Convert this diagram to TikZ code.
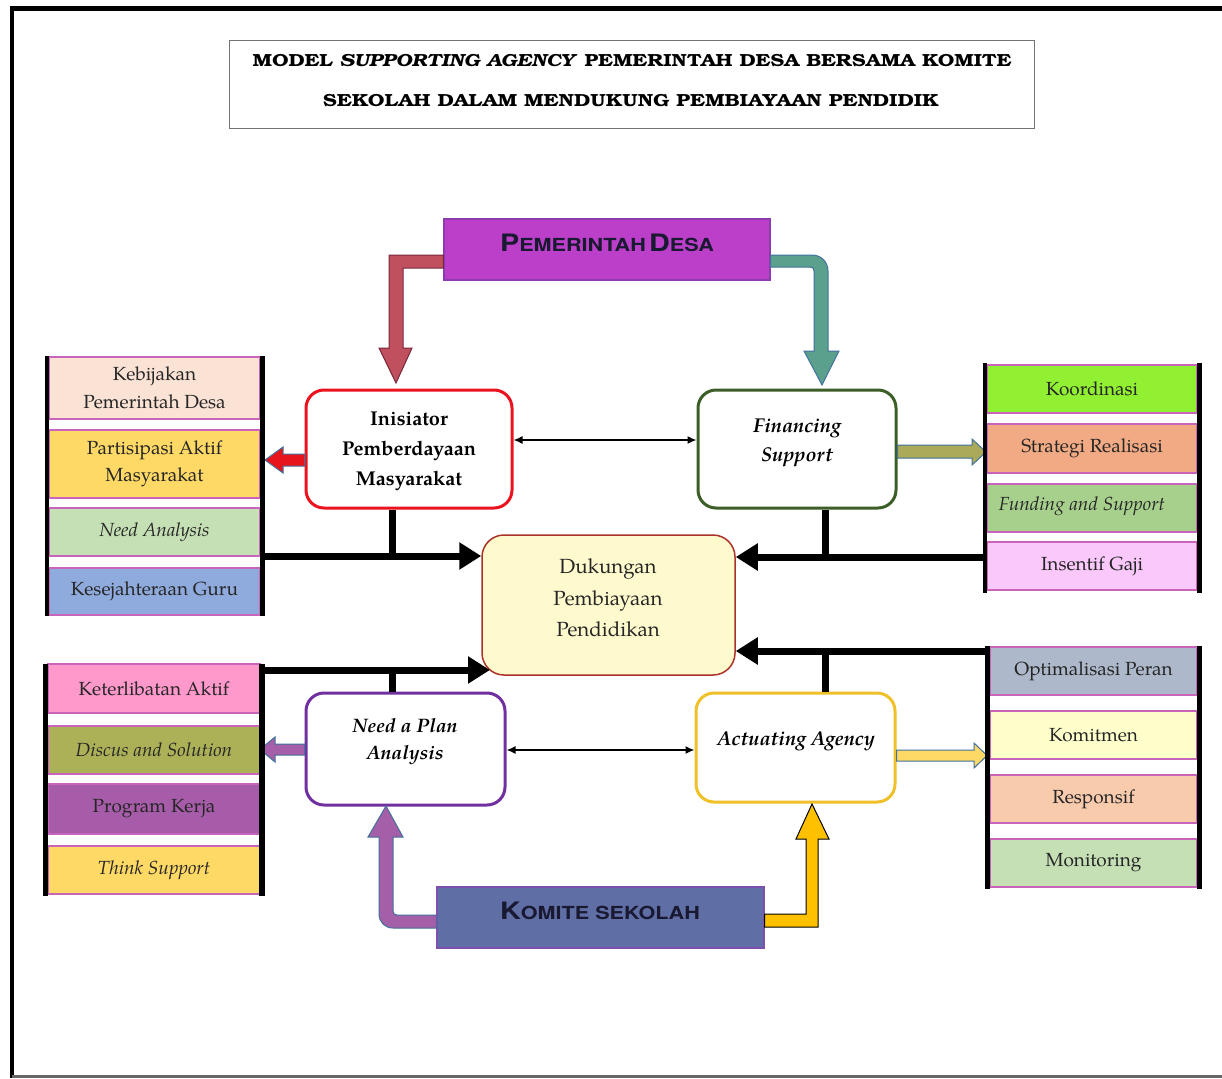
\documentclass[tikz,border=0pt]{standalone}
\usepackage{fontspec}
\usepackage{graphicx}
\setmainfont{TeX Gyre Pagella}
\newfontfamily\titlefont{TeX Gyre Bonum}
\newfontfamily\capfont{TeX Gyre Heros}
\usetikzlibrary{arrows.meta}
\definecolor{pdpurple}{RGB}{187,63,200}
\definecolor{pdborder}{RGB}{140,60,175}
\definecolor{komblue}{RGB}{95,110,165}
\definecolor{komborder}{RGB}{125,80,175}
\definecolor{redarrow}{RGB}{192,80,94}
\definecolor{redarrowb}{RGB}{120,40,60}
\definecolor{tealarrow}{RGB}{90,160,140}
\definecolor{officeb}{RGB}{65,113,156}
\definecolor{purplearrow}{RGB}{165,95,168}
\definecolor{goldarrow}{RGB}{255,192,0}
\definecolor{inired}{RGB}{235,20,30}
\definecolor{fingreen}{RGB}{60,95,40}
\definecolor{needpurple}{RGB}{112,48,160}
\definecolor{actgold}{RGB}{240,192,40}
\definecolor{dukfill}{RGB}{255,250,205}
\definecolor{dukborder}{RGB}{170,50,40}
\definecolor{smallred}{RGB}{232,20,28}
\definecolor{olivearrow}{RGB}{170,170,90}
\definecolor{goldlight}{RGB}{255,217,102}
\definecolor{sideborder}{RGB}{200,100,185}
\definecolor{cPeach}{RGB}{250,226,212}
\definecolor{cYellow}{RGB}{255,217,102}
\definecolor{cSage}{RGB}{197,224,180}
\definecolor{cBlue}{RGB}{143,170,220}
\definecolor{cPink}{RGB}{255,153,204}
\definecolor{cOlive}{RGB}{172,177,88}
\definecolor{cPurple}{RGB}{166,92,168}
\definecolor{cLime}{RGB}{146,240,50}
\definecolor{cSalmon}{RGB}{242,170,132}
\definecolor{cGreen}{RGB}{168,208,141}
\definecolor{cLPink}{RGB}{250,200,250}
\definecolor{cGray}{RGB}{173,185,202}
\definecolor{cPale}{RGB}{255,255,204}
\definecolor{cApricot}{RGB}{248,203,173}
\definecolor{inktext}{RGB}{25,25,50}
\newcommand{\bigsc}[2]{{\fontsize{24}{24}\selectfont #1}{\fontsize{18}{18}\selectfont #2}}
\tikzset{
  sidebox/.style={draw=sideborder, line width=1.2pt, minimum width=211pt, inner sep=0pt,
    align=center, font=\fontsize{19}{27.5}\selectfont, text=black!85},
  mainbox/.style={draw, line width=3pt, rounded corners=18pt, fill=white, inner sep=0pt},
  sidebar/.style={line width=5pt, black},
  fatline/.style={line width=7pt, black},
  fattip/.style={-{Triangle[width=26pt,length=22pt]}},
  thinlink/.style={{Latex[length=9pt,width=8pt]}-{Latex[length=9pt,width=8pt]}, line width=1.5pt},
  blockarrow/.style={line width=1pt, line join=miter},
  boldtxt/.style={align=center, font=\bfseries\fontsize{20}{30}\selectfont, text=black},
  bitxt/.style={align=center, font=\bfseries\itshape\fontsize{20}{28}\selectfont, text=black},
  titletxt/.style={font=\titlefont\bfseries\fontsize{17.5}{20}\selectfont, inner sep=0pt}
}
\begin{document}
\begin{tikzpicture}[x=1pt,y=-1pt]
\useasboundingbox (0,0) rectangle (1222,1078);
\fill[white] (0,0) rectangle (1222,1078);
% outer frame
\draw[line width=5pt] (10,8.5) -- (1222,8.5);
\draw[line width=4pt] (12,6.5) -- (12,1078);
\draw[line width=2.5pt, black!60] (12,1076.5) -- (1222,1076.5);

% title
\node[draw=black!55, line width=0.8pt, minimum width=805pt, minimum height=88pt, inner sep=0pt] (title) at (631.5,84) {};
\node[titletxt] (t1) at (632,61) {\scalebox{1.18}[1]{MODEL \textit{SUPPORTING AGENCY} PEMERINTAH DESA BERSAMA KOMITE}};
\node[titletxt] (t2) at (631,101) {\scalebox{1.19}[1]{SEKOLAH DALAM MENDUKUNG PEMBIAYAAN PENDIDIK}};

% Pemerintah Desa
\node[draw=pdborder, fill=pdpurple, line width=1.2pt, minimum width=326pt, minimum height=61pt, inner sep=0pt] (pd) at (607,249.5) {};
\node[text=inktext, font=\capfont\bfseries, inner sep=0pt] (pdt) at (607,243) {\scalebox{1.2}[1]{\bigsc{P}{EMERINTAH} \bigsc{D}{ESA}}};

% Komite sekolah
\node[draw=komborder, fill=komblue, line width=1.2pt, minimum width=327pt, minimum height=61pt, inner sep=0pt] (ks) at (600.5,917.5) {};
\node[text=inktext, font=\capfont\bfseries, inner sep=0pt] (kst) at (600,911) {\scalebox{1.2}[1]{\bigsc{K}{OMITE SEKOLAH}}};

% main boxes
\node[mainbox, draw=inired, minimum width=206pt, minimum height=118pt] (ini) at (409,449) {};
\node[boldtxt] (init) at (409,451) {Inisiator\\Pemberdayaan\\Masyarakat};
\node[mainbox, draw=fingreen, minimum width=198pt, minimum height=118pt] (fin) at (797,449) {};
\node[bitxt, font=\bfseries\itshape\fontsize{20}{29}\selectfont] (fint) at (797,443) {Financing\\Support};
\node[mainbox, draw=dukborder, fill=dukfill, line width=1.5pt, rounded corners=22pt, minimum width=253pt, minimum height=140pt] (duk) at (608.5,605) {};
\node[align=center, font=\fontsize{20.5}{31.5}\selectfont, text=black!85] (dukt) at (608,598) {Dukungan\\Pembiayaan\\Pendidikan};
\node[mainbox, draw=needpurple, minimum width=199pt, minimum height=112pt] (need) at (405.5,749) {};
\node[bitxt, font=\bfseries\itshape\fontsize{19.5}{27}\selectfont] (needt) at (405,742) {Need a Plan\\Analysis};
\node[mainbox, draw=actgold, minimum width=199pt, minimum height=109pt] (act) at (795.5,747.5) {};
\node[bitxt] (actt) at (796,741) {Actuating Agency};

% thin double links
\draw[thinlink] (ini.east |- 0,440) -- (fin.west |- 0,440);
\draw[thinlink] (need.east |- 0,750) -- (act.west |- 0,750);

% block arrows from Pemerintah Desa
\filldraw[blockarrow, fill=redarrow, draw=redarrowb]
  (pd.west |- 0,255) -- (389,255) -- (389,348) -- (379,348) -- (396,383) -- (412,348) -- (403,348) -- (403,268) -- (pd.west |- 0,268) -- cycle;
\filldraw[blockarrow, fill=tealarrow, draw=officeb]
  (pd.east |- 0,255) -- (812,255) .. controls (821,255) and (828,262) .. (828,271) -- (828,351) -- (839,351) -- (822,385) -- (804,351) -- (814,351) -- (814,271) .. controls (814,268.5) and (813,267) .. (810,267) -- (pd.east |- 0,267) -- cycle;

% block arrows from Komite sekolah
\filldraw[blockarrow, fill=purplearrow, draw=officeb]
  (ks.west |- 0,915) -- (397,915) .. controls (394.5,915) and (393,913.5) .. (393,911) -- (393,837) -- (403,837) -- (386,806) -- (368,837) -- (379,837) -- (379,914) .. controls (379,922) and (385,928) .. (393,928) -- (ks.west |- 0,928) -- cycle;
\filldraw[blockarrow, fill=goldarrow, draw=black]
  (ks.east |- 0,914) -- (806,914) -- (806,839) -- (796,839) -- (812,804) -- (829,839) -- (818,839) -- (818,927) -- (ks.east |- 0,927) -- cycle;

% small side arrows
\filldraw[blockarrow, fill=smallred, draw=officeb]
  (ini.west |- 0,454) -- (283,454) -- (283,447) -- (265,460) -- (283,473) -- (283,466) -- (ini.west |- 0,466) -- cycle;
\filldraw[blockarrow, fill=purplearrow, draw=officeb]
  (need.west |- 0,744) -- (275,744) -- (275,737) -- (260,749.5) -- (275,762) -- (275,755) -- (need.west |- 0,755) -- cycle;
\filldraw[blockarrow, fill=olivearrow, draw=officeb]
  (fin.east |- 0,445) -- (972,445) -- (972,439) -- (986,452) -- (972,465) -- (972,458) -- (fin.east |- 0,458) -- cycle;
\filldraw[blockarrow, fill=goldlight, draw=officeb]
  (act.east |- 0,750) -- (974,750) -- (974,743) -- (987,755.5) -- (974,768) -- (974,761) -- (act.east |- 0,761) -- cycle;

% left column 1
\node[sidebox, fill=cPeach, minimum height=62pt] (l1a) at (154.5,388) {Kebijakan\\Pemerintah Desa};
\node[sidebox, fill=cYellow, minimum height=68pt] (l1b) at (154.5,464) {Partisipasi Aktif\\Masyarakat};
\node[sidebox, fill=cSage, minimum height=48pt] (l1c) at (154.5,532) {\itshape Need Analysis};
\node[sidebox, fill=cBlue, minimum height=47pt] (l1d) at (154.5,591.5) {Kesejahteraan Guru};
\draw[sidebar, line width=4pt] (47,356) -- (47,616);
\draw[sidebar] (262.5,356) -- (262.5,616);

% left column 2
\node[sidebox, fill=cPink, minimum height=49pt, minimum width=212pt] (l2a) at (154,688.5) {Keterlibatan Aktif};
\node[sidebox, fill=cOlive, minimum height=48pt, minimum width=212pt] (l2b) at (154,750) {\itshape Discus and Solution};
\node[sidebox, fill=cPurple, minimum height=50pt, minimum width=212pt] (l2c) at (154,809) {Program Kerja};
\node[sidebox, fill=cYellow, minimum height=48pt, minimum width=212pt] (l2d) at (154,870) {\itshape Think Support};
\draw[sidebar] (45.5,664) -- (45.5,896);
\draw[sidebar, line width=6pt] (262,664) -- (262,896);

% right column 1
\node[sidebox, fill=cLime, minimum height=48pt, minimum width=210pt] (r1a) at (1092,389) {Koordinasi};
\node[sidebox, fill=cSalmon, minimum height=49pt, minimum width=210pt] (r1b) at (1092,448.5) {Strategi Realisasi};
\node[sidebox, fill=cGreen, minimum height=48pt, minimum width=210pt] (r1c) at (1092,508) {};
\node[font=\itshape\fontsize{19}{27.5}\selectfont, text=black!85] (r1ct) at (1082,506) {Funding and Support};
\node[sidebox, fill=cLPink, minimum height=48pt, minimum width=210pt] (r1d) at (1092,566) {Insentif Gaji};
\draw[sidebar, line width=4pt] (985,363) -- (985,593);
\draw[sidebar] (1199.5,363) -- (1199.5,593);

% right column 2
\node[sidebox, fill=cGray, minimum height=48pt, minimum width=207pt] (r2a) at (1093.5,671) {Optimalisasi Peran};
\node[sidebox, fill=cPale, minimum height=48pt, minimum width=207pt] (r2b) at (1093.5,735) {Komitmen};
\node[sidebox, fill=cApricot, minimum height=48pt, minimum width=207pt] (r2c) at (1093.5,799) {Responsif};
\node[sidebox, fill=cSage, minimum height=48pt, minimum width=207pt] (r2d) at (1093.5,863) {Monitoring};
\draw[sidebar] (987.5,646) -- (987.5,889);
\draw[sidebar] (1199.5,646) -- (1199.5,889);

% thick black connectors into Dukungan
\coordinate (jl1) at (392,556);
\coordinate (jr1) at (825,557);
\coordinate (jl2) at (392,670);
\coordinate (jr2) at (825,651);
\draw[fatline, fattip] (262.5,556) -- (duk.west |- jl1);
\draw[fatline] ([xshift=-17pt]ini.south) -- ([yshift=-3.5pt]jl1);
\draw[fatline, fattip] (985,557) -- (duk.east |- jr1);
\draw[fatline] ([xshift=28pt]fin.south) -- ([yshift=-3.5pt]jr1);
\draw[fatline, fattip] (262,670) -- (490,670);
\draw[fatline] ([xshift=-13.5pt]need.north) -- ([yshift=3.5pt]jl2);
\draw[fatline, fattip] (988,651) -- (duk.east |- jr2);
\draw[fatline] ([xshift=29.5pt]act.north) -- ([yshift=3.5pt]jr2);
\end{tikzpicture}
\end{document}
